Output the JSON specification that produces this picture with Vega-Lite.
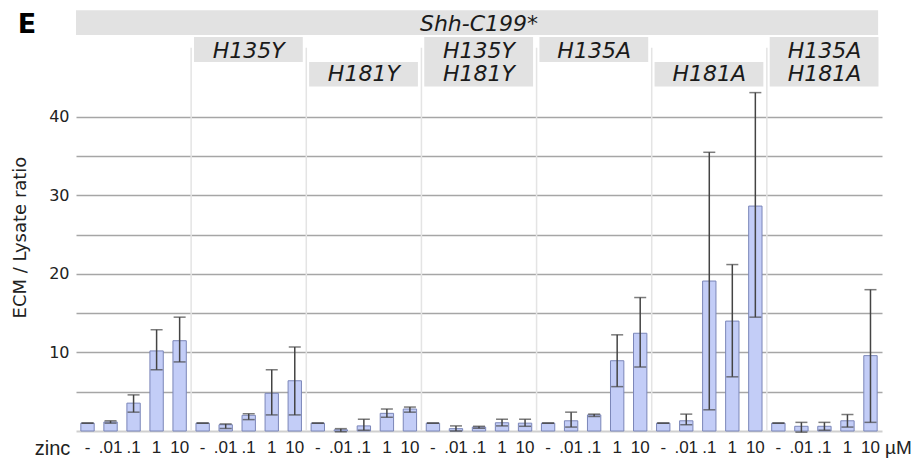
{
  "$schema": "https://vega.github.io/schema/vega-lite/v6.json",
  "width": 806,
  "height": 422,
  "autosize": "none",
  "padding": {"left": 76, "top": 9, "right": 35, "bottom": 29},
  "background": "white",
  "config": {"font": "DejaVu Sans", "view": {"stroke": null}},
  "datasets": {
    "bars": [
      {"key": "WT|-", "value": 1.0, "lo": 1.0, "hi": 1.0},
      {"key": "WT|.01", "value": 1.15, "lo": 1.0, "hi": 1.3},
      {"key": "WT|.1", "value": 3.55, "lo": 2.4, "hi": 4.6},
      {"key": "WT|1", "value": 10.2, "lo": 7.8, "hi": 12.9},
      {"key": "WT|10", "value": 11.5, "lo": 8.8, "hi": 14.5},
      {"key": "H135Y|-", "value": 1.0, "lo": 1.0, "hi": 1.0},
      {"key": "H135Y|.01", "value": 0.8, "lo": 0.32, "hi": 0.9},
      {"key": "H135Y|.1", "value": 2.0, "lo": 1.45, "hi": 2.2},
      {"key": "H135Y|1", "value": 4.8, "lo": 2.05, "hi": 7.8},
      {"key": "H135Y|10", "value": 6.4, "lo": 2.05, "hi": 10.7},
      {"key": "H181Y|-", "value": 1.0, "lo": 1.0, "hi": 1.0},
      {"key": "H181Y|.01", "value": 0.15, "lo": -0.1, "hi": 0.3},
      {"key": "H181Y|.1", "value": 0.65, "lo": 0.1, "hi": 1.5},
      {"key": "H181Y|1", "value": 2.25, "lo": 1.75, "hi": 2.8},
      {"key": "H181Y|10", "value": 2.8, "lo": 2.4, "hi": 3.05},
      {"key": "H135Y H181Y|-", "value": 1.0, "lo": 1.0, "hi": 1.0},
      {"key": "H135Y H181Y|.01", "value": 0.3, "lo": 0.0, "hi": 0.65},
      {"key": "H135Y H181Y|.1", "value": 0.5, "lo": 0.35, "hi": 0.6},
      {"key": "H135Y H181Y|1", "value": 1.05, "lo": 0.65, "hi": 1.5},
      {"key": "H135Y H181Y|10", "value": 1.0, "lo": 0.6, "hi": 1.5},
      {"key": "H135A|-", "value": 1.0, "lo": 1.0, "hi": 1.0},
      {"key": "H135A|.01", "value": 1.3, "lo": 0.5, "hi": 2.4},
      {"key": "H135A|.1", "value": 2.05, "lo": 1.85, "hi": 2.15},
      {"key": "H135A|1", "value": 8.95, "lo": 5.65, "hi": 12.25},
      {"key": "H135A|10", "value": 12.45, "lo": 8.15, "hi": 17.0},
      {"key": "H181A|-", "value": 1.0, "lo": 1.0, "hi": 1.0},
      {"key": "H181A|.01", "value": 1.3, "lo": 0.8, "hi": 2.15},
      {"key": "H181A|.1", "value": 19.1, "lo": 2.7, "hi": 35.5},
      {"key": "H181A|1", "value": 14.0, "lo": 6.9, "hi": 21.2},
      {"key": "H181A|10", "value": 28.65, "lo": 14.5, "hi": 43.1},
      {"key": "H135A H181A|-", "value": 1.0, "lo": 1.0, "hi": 1.0},
      {"key": "H135A H181A|.01", "value": 0.6, "lo": -0.15, "hi": 1.1},
      {"key": "H135A H181A|.1", "value": 0.6, "lo": 0.1, "hi": 1.1},
      {"key": "H135A H181A|1", "value": 1.3, "lo": 0.5, "hi": 2.1},
      {"key": "H135A H181A|10", "value": 9.6, "lo": 1.1, "hi": 18.0}
    ],
    "seps": [
      {"k": "H135Y|-"}, {"k": "H181Y|-"}, {"k": "H135Y H181Y|-"},
      {"k": "H135A|-"}, {"k": "H181A|-"}, {"k": "H135A H181A|-"}
    ],
    "top": [
      {"label": "Shh-C199*", "start": "WT|-", "end": "H135A H181A|10", "mid": "H135Y H181Y|.1"}
    ],
    "row1": [
      {"label": "H135Y", "start": "H135Y|-", "end": "H135Y|10", "mid": "H135Y|.1"},
      {"label": "H135A", "start": "H135A|-", "end": "H135A|10", "mid": "H135A|.1"}
    ],
    "row2": [
      {"label": "H181Y", "start": "H181Y|-", "end": "H181Y|10", "mid": "H181Y|.1"},
      {"label": "H181A", "start": "H181A|-", "end": "H181A|10", "mid": "H181A|.1"}
    ],
    "both": [
      {"label": "H135Y\nH181Y", "start": "H135Y H181Y|-", "end": "H135Y H181Y|10", "mid": "H135Y H181Y|.1"},
      {"label": "H135A\nH181A", "start": "H135A H181A|-", "end": "H135A H181A|10", "mid": "H135A H181A|.1"}
    ],
    "notes": [
      {"t": "E", "k": "WT|-"}
    ],
    "unit": [
      {"t": "µM", "k": "H135A H181A|10"}
    ]
  },
  "layer": [
    {
      "data": {"name": "bars"},
      "mark": {"type": "bar", "fill": "#c3cdf7", "stroke": "#7b86b8", "strokeWidth": 1},
      "encoding": {
        "x": {
          "field": "key", "type": "nominal", "sort": null,
          "scale": {
            "type": "band", "paddingInner": 0.42, "paddingOuter": 0.21,
            "domain": ["WT|-","WT|.01","WT|.1","WT|1","WT|10",
                       "H135Y|-","H135Y|.01","H135Y|.1","H135Y|1","H135Y|10",
                       "H181Y|-","H181Y|.01","H181Y|.1","H181Y|1","H181Y|10",
                       "H135Y H181Y|-","H135Y H181Y|.01","H135Y H181Y|.1","H135Y H181Y|1","H135Y H181Y|10",
                       "H135A|-","H135A|.01","H135A|.1","H135A|1","H135A|10",
                       "H181A|-","H181A|.01","H181A|.1","H181A|1","H181A|10",
                       "H135A H181A|-","H135A H181A|.01","H135A H181A|.1","H135A H181A|1","H135A H181A|10"]
          },
          "axis": {
            "labelExpr": "split(datum.value, '|')[1]",
            "labelAngle": 0, "labelFont": "Liberation Sans", "labelFontSize": 17, "labelColor": "#222222", "labelPadding": 8,
            "ticks": false, "domain": true, "domainColor": "#cfcfcf", "domainWidth": 2, "grid": false,
            "title": "zinc", "titleFont": "Liberation Sans", "titleFontSize": 20, "titleFontWeight": "normal", "titleColor": "#222222",
            "titleX": -24, "titleY": 17, "titleAlign": "center", "titleBaseline": "middle", "titleAnchor": null
          }
        },
        "y": {
          "field": "value", "type": "quantitative",
          "scale": {"domain": [0, 53.75], "nice": false, "zero": true},
          "axis": {
            "values": [5, 10, 15, 20, 25, 30, 35, 40],
            "labelExpr": "datum.value % 10 == 0 ? datum.label : ''",
            "labelFontSize": 16, "labelColor": "#222222", "labelPadding": 7,
            "ticks": false, "domain": false,
            "grid": true, "gridColor": "#a6a6a6", "gridWidth": 1.5,
            "title": "ECM / Lysate ratio", "titleFontSize": 18, "titleFontWeight": "normal", "titleColor": "#222222",
            "titleX": -56, "titleY": 228, "titleAngle": -90, "titleAlign": "center", "titleBaseline": "middle"
          }
        }
      }
    },
    {
      "data": {"name": "seps"},
      "mark": {"type": "rule", "color": "#e4e4e4", "strokeWidth": 1.5},
      "encoding": {
        "x": {"field": "k", "type": "nominal", "bandPosition": -0.362},
        "y": {"datum": 48.8},
        "y2": {"datum": 0}
      }
    },
    {
      "data": {"name": "bars"},
      "mark": {"type": "rule", "color": "#444444", "strokeWidth": 1.5},
      "encoding": {
        "x": {"field": "key", "type": "nominal"},
        "y": {"field": "lo", "type": "quantitative"},
        "y2": {"field": "hi"}
      }
    },
    {
      "data": {"name": "bars"},
      "mark": {"type": "tick", "color": "#444444", "thickness": 1.5, "size": 12},
      "encoding": {
        "x": {"field": "key", "type": "nominal"},
        "y": {"field": "lo", "type": "quantitative"}
      }
    },
    {
      "data": {"name": "bars"},
      "mark": {"type": "tick", "color": "#444444", "thickness": 1.5, "size": 12},
      "encoding": {
        "x": {"field": "key", "type": "nominal"},
        "y": {"field": "hi", "type": "quantitative"}
      }
    },
    {
      "data": {"name": "top"},
      "mark": {"type": "rect", "color": "#e2e2e2"},
      "encoding": {
        "x": {"field": "start", "type": "nominal", "bandPosition": -0.362},
        "x2": {"field": "end", "bandPosition": 1.07},
        "y": {"datum": 53.6},
        "y2": {"datum": 50.44}
      }
    },
    {
      "data": {"name": "row1"},
      "mark": {"type": "rect", "color": "#e2e2e2"},
      "encoding": {
        "x": {"field": "start", "type": "nominal", "bandPosition": -0.15},
        "x2": {"field": "end", "bandPosition": 1.1},
        "y": {"datum": 50.19},
        "y2": {"datum": 47.0}
      }
    },
    {
      "data": {"name": "row2"},
      "mark": {"type": "rect", "color": "#e2e2e2"},
      "encoding": {
        "x": {"field": "start", "type": "nominal", "bandPosition": -0.15},
        "x2": {"field": "end", "bandPosition": 1.1},
        "y": {"datum": 47.0},
        "y2": {"datum": 43.88}
      }
    },
    {
      "data": {"name": "both"},
      "mark": {"type": "rect", "color": "#e2e2e2"},
      "encoding": {
        "x": {"field": "start", "type": "nominal", "bandPosition": -0.15},
        "x2": {"field": "end", "bandPosition": 1.1},
        "y": {"datum": 50.19},
        "y2": {"datum": 43.88}
      }
    },
    {
      "data": {"name": "top"},
      "mark": {"type": "text", "fontSize": 22, "fontStyle": "italic", "color": "#1a1a1a", "align": "center", "baseline": "alphabetic"},
      "encoding": {
        "x": {"field": "mid", "type": "nominal"},
        "y": {"datum": 50.95},
        "text": {"field": "label"}
      }
    },
    {
      "data": {"name": "row1"},
      "mark": {"type": "text", "fontSize": 22, "fontStyle": "italic", "color": "#1a1a1a", "align": "center", "baseline": "alphabetic"},
      "encoding": {
        "x": {"field": "mid", "type": "nominal"},
        "y": {"datum": 47.47},
        "text": {"field": "label"}
      }
    },
    {
      "data": {"name": "row2"},
      "mark": {"type": "text", "fontSize": 22, "fontStyle": "italic", "color": "#1a1a1a", "align": "center", "baseline": "alphabetic"},
      "encoding": {
        "x": {"field": "mid", "type": "nominal"},
        "y": {"datum": 44.58},
        "text": {"field": "label"}
      }
    },
    {
      "data": {"name": "both"},
      "mark": {"type": "text", "fontSize": 22, "fontStyle": "italic", "color": "#1a1a1a", "align": "center", "baseline": "alphabetic", "lineBreak": "\n", "lineHeight": 23},
      "encoding": {
        "x": {"field": "mid", "type": "nominal"},
        "y": {"datum": 47.47},
        "text": {"field": "label"}
      }
    },
    {
      "data": {"name": "notes"},
      "mark": {"type": "text", "fontSize": 27, "fontWeight": "bold", "color": "#000000", "align": "center", "baseline": "alphabetic", "dx": -60.5},
      "encoding": {
        "x": {"field": "k", "type": "nominal"},
        "y": {"datum": 50.69},
        "text": {"field": "t"}
      }
    },
    {
      "data": {"name": "unit"},
      "mark": {"type": "text", "font": "Liberation Sans", "fontSize": 19, "color": "#222222", "align": "center", "baseline": "middle", "dx": 28, "dy": 17},
      "encoding": {
        "x": {"field": "k", "type": "nominal"},
        "y": {"datum": 0},
        "text": {"field": "t"}
      }
    }
  ]
}
